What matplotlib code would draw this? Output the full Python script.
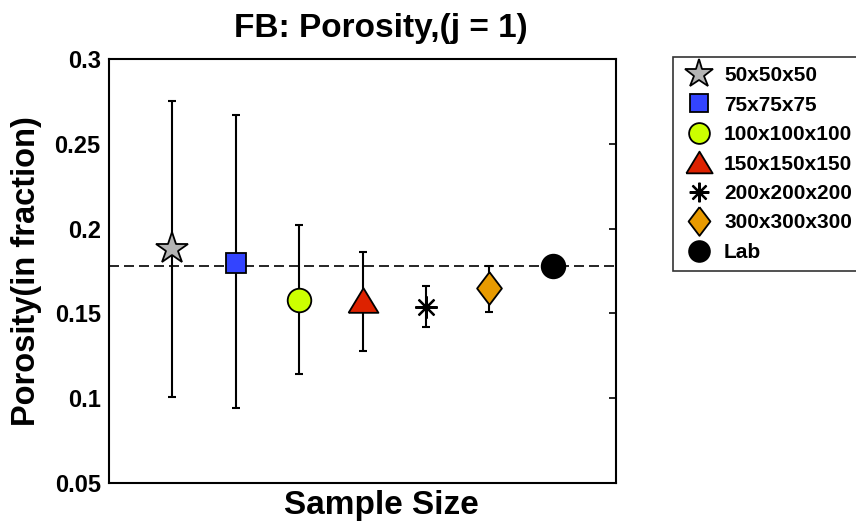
import matplotlib
matplotlib.use("Agg")
import matplotlib.pyplot as plt

plt.rcParams['font.family'] = ['Liberation Sans', 'DejaVu Sans']
plt.rcParams['font.weight'] = 'bold'

labels = ["50x50x50", "75x75x75", "100x100x100", "150x150x150",
          "200x200x200", "300x300x300", "Lab"]
means = [0.188, 0.180, 0.158, 0.158, 0.154, 0.165, 0.178]
upper = [0.275, 0.267, 0.202, 0.186, 0.166, 0.178, None]
lower = [0.101, 0.094, 0.114, 0.128, 0.142, 0.151, None]
lab_value = 0.178

tri = [(-1, -0.825), (1, -0.825), (0, 0.825), (-1, -0.825)]
dia = [(0, 1), (0.76, 0), (0, -1), (-0.76, 0), (0, 1)]
markers = ['*', 's', 'o', tri, (8, 2, 0), dia, 'o']
colors = ['#b4b4b4', '#3344ff', '#ccff00', '#dd2200', 'black', '#e89a00', 'black']
msizes = [24, 15, 17, 21.5, 16, 23.5, 17]

fig = plt.figure(figsize=(8.56, 5.27), dpi=100)
ax = fig.add_axes([109/856, 44/527, 507/856, 424/527])

ax.axhline(lab_value, color='black', linestyle=(0, (6, 3)), linewidth=1.2, zorder=1)

handles = []
for i, lab in enumerate(labels):
    x = i + 1
    if upper[i] is not None:
        ax.errorbar([x], [means[i]],
                    yerr=[[means[i] - lower[i]], [upper[i] - means[i]]],
                    fmt='none', ecolor='black', elinewidth=1.5, capsize=3,
                    capthick=1.5, zorder=2)
    mk = markers[i]
    if i == 4:
        h, = ax.plot([x], [means[i]], linestyle='none', marker=mk,
                     markersize=msizes[i], color='black', markeredgewidth=1.6, zorder=3,
                     label=lab)
    else:
        h, = ax.plot([x], [means[i]], linestyle='none', marker=mk,
                     markersize=msizes[i], markerfacecolor=colors[i],
                     markeredgecolor='black', markeredgewidth=1.3, zorder=3, label=lab)
    handles.append(h)

ax.set_xlim(0, 8)
ax.set_ylim(0.05, 0.3)
ax.set_yticks([0.05, 0.1, 0.15, 0.2, 0.25, 0.3])
ax.set_yticklabels(['0.05', '0.1', '0.15', '0.2', '0.25', '0.3'])
ax.set_xticks([])
ax.tick_params(axis='y', which='both', direction='in', right=True, left=False,
               length=5, width=1.2, labelsize=17, pad=6)
for s in ax.spines.values():
    s.set_linewidth(1.5)

ax.set_title("FB: Porosity,(j = 1)", fontsize=24, fontweight='bold', pad=16, x=0.537)
ax.set_ylabel("Porosity(in fraction)", fontsize=23.5, fontweight='bold', labelpad=9)
ax.set_xlabel("Sample Size", fontsize=24, fontweight='bold', labelpad=5, x=0.537)

leg = fig.legend(handles=handles, loc='upper left',
                 bbox_to_anchor=(673/856, 1 - 57/527), bbox_transform=fig.transFigure,
                 borderaxespad=0, fontsize=15, frameon=True, fancybox=False,
                 edgecolor='black', handlelength=1.6, handletextpad=0.4,
                 labelspacing=0.5, markerscale=0.88, borderpad=0.45)
leg.get_frame().set_linewidth(1.2)
for t in leg.get_texts():
    t.set_fontweight('bold')

fig.savefig("out.png", dpi=100)
